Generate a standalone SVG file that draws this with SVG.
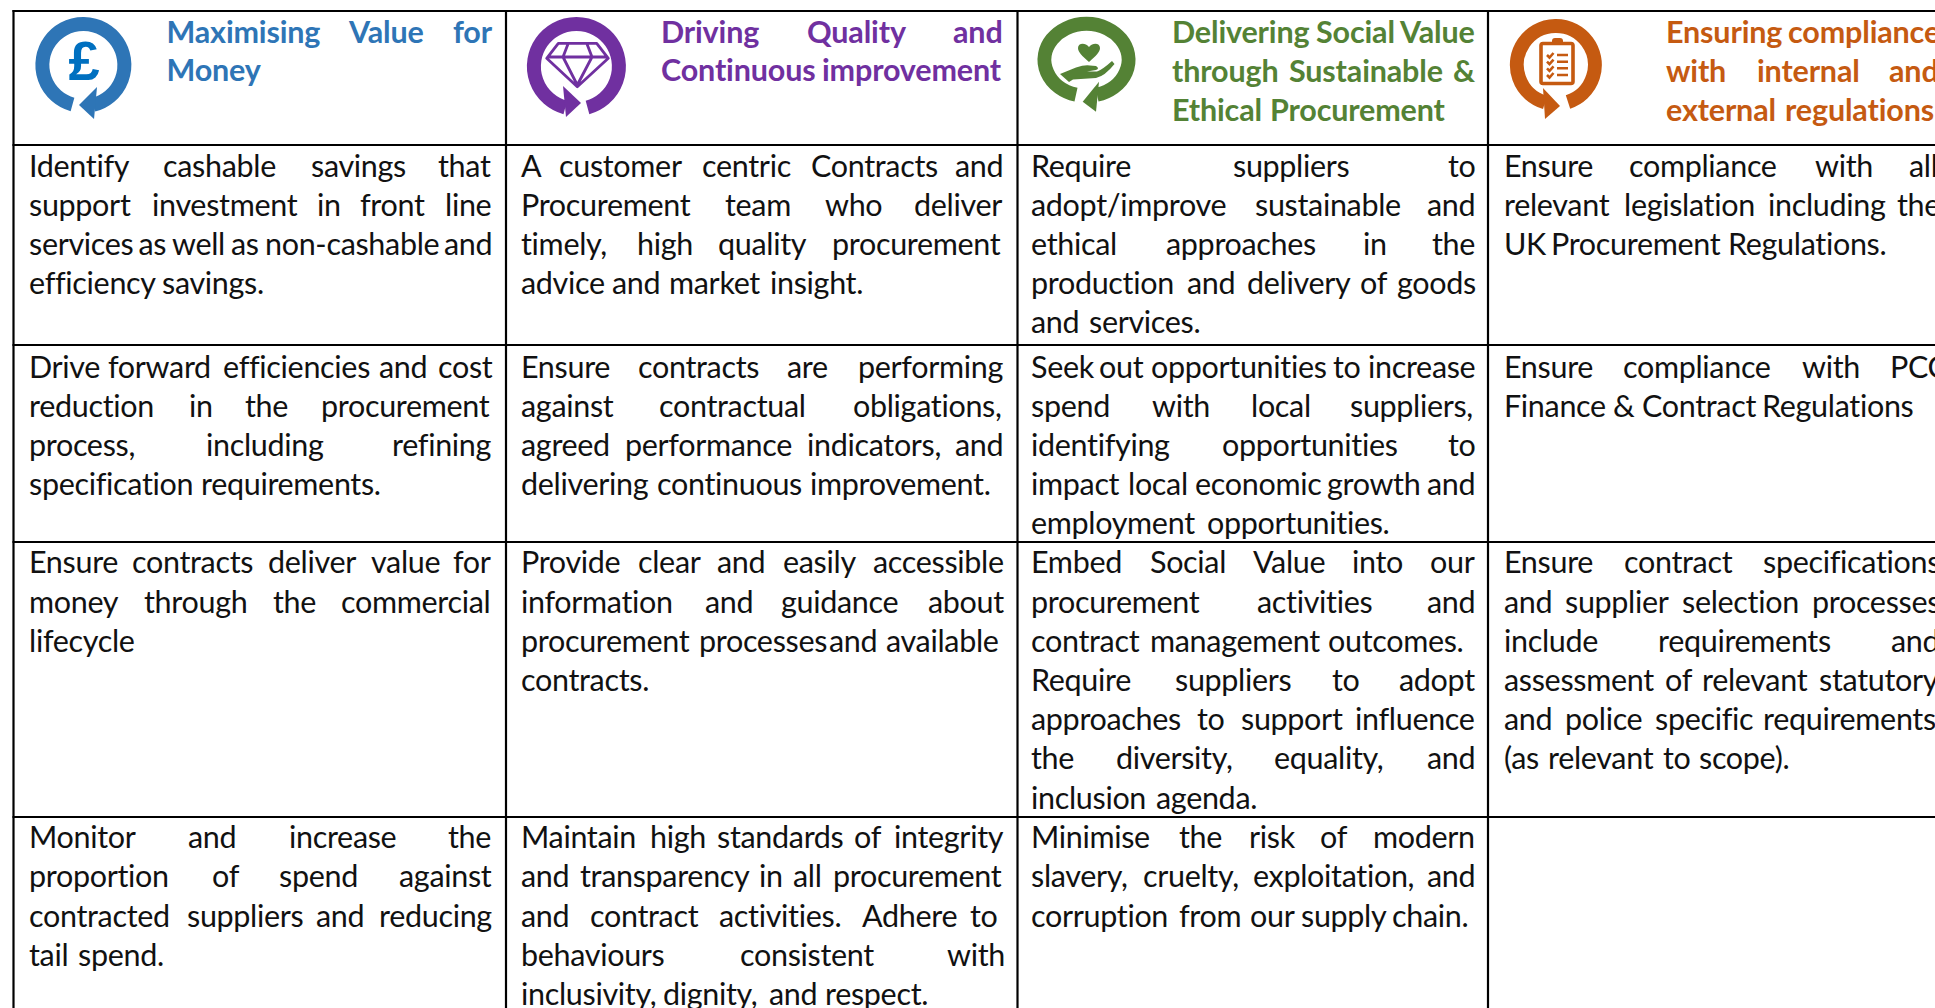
<svg xmlns="http://www.w3.org/2000/svg" width="1935" height="1008" viewBox="0 0 1935 1008">
<style>
text{font-family:"Lato","Open Sans","Liberation Sans",sans-serif}
.b{font-size:30.5px;letter-spacing:-.32px;fill:#111}
.h{font-size:30.5px;letter-spacing:-.15px;font-weight:700}
.bl{fill:#2e75b6}.pu{fill:#7030a0}.gr{fill:#548235}.or{fill:#c55a11}
.ring{fill:none;stroke-width:14}
.grid line{stroke:#000;stroke-width:2.2}
</style>
<rect width="1935" height="1008" fill="#fff"/>
<g id="connectors" class="grid">
<line x1="12.5" y1="11" x2="1935" y2="11"/>
<line x1="12.5" y1="145" x2="1935" y2="145"/>
<line x1="12.5" y1="345" x2="1935" y2="345"/>
<line x1="12.5" y1="542" x2="1935" y2="542"/>
<line x1="12.5" y1="817" x2="1935" y2="817"/>
<line x1="13.5" y1="10" x2="13.5" y2="1008"/>
<line x1="506" y1="10" x2="506" y2="1008"/>
<line x1="1017.5" y1="10" x2="1017.5" y2="1008"/>
<line x1="1488" y1="10" x2="1488" y2="1008"/>
</g>
<g id="head-value">
<path class="ring" stroke="#2e75b6" d="M72.5,104.5 A41,41 0 1 1 93.5,104.7"/>
<polygon class="bl" points="79,105 97,87 94,119"/>
<text x="84" y="80" text-anchor="middle" style="font-family:'Liberation Sans',sans-serif;font-size:56px;font-weight:700" fill="#0070c0">£</text>
<text class="h bl" y="43"><tspan x="166.5">Maximising</tspan> <tspan x="349">Value</tspan> <tspan x="453">for</tspan></text>
<text class="h bl" x="166.5" y="81">Money</text>
</g>
<g id="head-quality">
<path class="ring" stroke="#7030a0" d="M587.5,107.5 A42.5,42.5 0 1 0 565.3,107.5"/>
<polygon class="pu" points="581,103 563,86 566,117"/>
<path d="M558.3,43.3H596.7L608.3,58.3L577.3,86.7L546.7,58.3ZM547,57H608M568,44L563,57L577.3,85L592,57L587,44" fill="none" stroke="#7030a0" stroke-width="2.8" stroke-linejoin="round"/>
<text class="h pu" y="43"><tspan x="661">Driving</tspan> <tspan x="807">Quality</tspan> <tspan x="953">and</tspan></text>
<text class="h pu" y="81"><tspan x="661">Continuous</tspan> <tspan x="822">improvement</tspan></text>
</g>
<g id="head-social">
<path class="ring" stroke="#548235" d="M1076,94.7 A42,36 0 1 1 1097,94.7"/>
<polygon class="gr" points="1082.7,101.7 1099,81.7 1096,111.7"/>
<path class="gr" d="M1089,62C1082,56 1078,52 1078,48C1078,43 1085,42 1089,47C1093,42 1100,43 1100,48C1100,52 1096,56 1089,62Z"/>
<path class="gr" d="M1060,74L1076,67.5Q1085,64.5 1090,65.5L1096,66Q1100,68.5 1096,70L1087,71.5L1097,71.5Q1102,70 1112,61L1114.5,64Q1105,76 1096,78L1073,79.5L1069,82Z"/>
<text class="h gr" y="43"><tspan x="1172">Delivering</tspan> <tspan x="1316">Social</tspan> <tspan x="1400">Value</tspan></text>
<text class="h gr" y="82"><tspan x="1172">through</tspan> <tspan x="1289">Sustainable</tspan> <tspan x="1453">&amp;</tspan></text>
<text class="h gr" y="121"><tspan x="1172">Ethical</tspan> <tspan x="1270">Procurement</tspan></text>
</g>
<g id="head-compliance">
<path class="ring" stroke="#c55a11" d="M1568,102 A39,39 0 1 0 1545,102.4"/>
<polygon class="or" points="1560,106 1543,88 1545,119"/>
<rect x="1541" y="43.5" width="32" height="40" rx="2" fill="none" stroke="#c55a11" stroke-width="3.6"/>
<rect x="1552" y="38" width="11" height="7" rx="3" class="or"/>
<path d="M1547,55l2.5,2.5l4-4.5M1547,61.7l2.5,2.5l4-4.5M1547,68.3l2.5,2.5l4-4.5M1547,75l2.5,2.5l4-4.5M1557,55h11M1557,61.7h11M1557,68.3h11M1557,75h11" fill="none" stroke="#c55a11" stroke-width="2.6"/>
<text class="h or" y="43"><tspan x="1666">Ensuring</tspan> <tspan x="1788">compliance</tspan></text>
<text class="h or" y="82"><tspan x="1666">with</tspan> <tspan x="1757">internal</tspan> <tspan x="1889">and</tspan></text>
<text class="h or" y="121"><tspan x="1666">external</tspan> <tspan x="1785">regulations</tspan></text>
</g>
<g id="r1c1" class="b">
<text y="177"><tspan x="29">Identify</tspan> <tspan x="163">cashable</tspan> <tspan x="311">savings</tspan> <tspan x="438">that</tspan></text>
<text y="216"><tspan x="29">support</tspan> <tspan x="152">investment</tspan> <tspan x="317">in</tspan> <tspan x="360">front</tspan> <tspan x="445">line</tspan></text>
<text y="255"><tspan x="29">services</tspan> <tspan x="138.5">as</tspan> <tspan x="172">well</tspan> <tspan x="231">as</tspan> <tspan x="265">non-cashable</tspan> <tspan x="444">and</tspan></text>
<text y="294"><tspan x="29">efficiency</tspan> <tspan x="162">savings.</tspan></text>
</g>
<g id="r1c2" class="b">
<text y="177"><tspan x="521">A</tspan> <tspan x="559">customer</tspan> <tspan x="702">centric</tspan> <tspan x="811">Contracts</tspan> <tspan x="955">and</tspan></text>
<text y="216"><tspan x="521">Procurement</tspan> <tspan x="725">team</tspan> <tspan x="825">who</tspan> <tspan x="914">deliver</tspan></text>
<text y="255"><tspan x="521">timely,</tspan> <tspan x="637">high</tspan> <tspan x="718">quality</tspan> <tspan x="832">procurement</tspan></text>
<text y="294"><tspan x="521">advice</tspan> <tspan x="612">and</tspan> <tspan x="669">market</tspan> <tspan x="770">insight.</tspan></text>
</g>
<g id="r1c3" class="b">
<text y="177"><tspan x="1031">Require</tspan> <tspan x="1233">suppliers</tspan> <tspan x="1448">to</tspan></text>
<text y="216"><tspan x="1031">adopt/improve</tspan> <tspan x="1255">sustainable</tspan> <tspan x="1427">and</tspan></text>
<text y="255"><tspan x="1031">ethical</tspan> <tspan x="1166">approaches</tspan> <tspan x="1363">in</tspan> <tspan x="1432">the</tspan></text>
<text y="294"><tspan x="1031">production</tspan> <tspan x="1187">and</tspan> <tspan x="1247">delivery</tspan> <tspan x="1360">of</tspan> <tspan x="1397">goods</tspan></text>
<text y="333"><tspan x="1031">and</tspan> <tspan x="1089">services.</tspan></text>
</g>
<g id="r1c4" class="b">
<text y="177"><tspan x="1504">Ensure</tspan> <tspan x="1629">compliance</tspan> <tspan x="1815">with</tspan> <tspan x="1909">all</tspan></text>
<text y="216"><tspan x="1504">relevant</tspan> <tspan x="1624">legislation</tspan> <tspan x="1768">including</tspan> <tspan x="1897">the</tspan></text>
<text y="255"><tspan x="1504">UK</tspan> <tspan x="1551">Procurement</tspan> <tspan x="1728">Regulations.</tspan></text>
</g>
<g id="r2c1" class="b">
<text y="378"><tspan x="29">Drive</tspan> <tspan x="108">forward</tspan> <tspan x="223">efficiencies</tspan> <tspan x="379">and</tspan> <tspan x="438">cost</tspan></text>
<text y="417"><tspan x="29">reduction</tspan> <tspan x="189">in</tspan> <tspan x="245">the</tspan> <tspan x="321">procurement</tspan></text>
<text y="456"><tspan x="29">process,</tspan> <tspan x="206">including</tspan> <tspan x="392">refining</tspan></text>
<text y="495"><tspan x="29">specification</tspan> <tspan x="201">requirements.</tspan></text>
</g>
<g id="r2c2" class="b">
<text y="378"><tspan x="521">Ensure</tspan> <tspan x="638">contracts</tspan> <tspan x="787">are</tspan> <tspan x="858">performing</tspan></text>
<text y="417"><tspan x="521">against</tspan> <tspan x="659">contractual</tspan> <tspan x="853">obligations,</tspan></text>
<text y="456"><tspan x="521">agreed</tspan> <tspan x="625">performance</tspan> <tspan x="807">indicators,</tspan> <tspan x="955">and</tspan></text>
<text y="495"><tspan x="521">delivering</tspan> <tspan x="657">continuous</tspan> <tspan x="810">improvement.</tspan></text>
</g>
<g id="r2c3" class="b">
<text y="378"><tspan x="1031">Seek</tspan> <tspan x="1099">out</tspan> <tspan x="1151">opportunities</tspan> <tspan x="1333">to</tspan> <tspan x="1368">increase</tspan></text>
<text y="417"><tspan x="1031">spend</tspan> <tspan x="1152">with</tspan> <tspan x="1251">local</tspan> <tspan x="1350">suppliers,</tspan></text>
<text y="456"><tspan x="1031">identifying</tspan> <tspan x="1222">opportunities</tspan> <tspan x="1448">to</tspan></text>
<text y="495"><tspan x="1031">impact</tspan> <tspan x="1128">local</tspan> <tspan x="1195">economic</tspan> <tspan x="1327">growth</tspan> <tspan x="1427">and</tspan></text>
<text y="534"><tspan x="1031">employment</tspan> <tspan x="1207">opportunities.</tspan></text>
</g>
<g id="r2c4" class="b">
<text y="378"><tspan x="1504">Ensure</tspan> <tspan x="1623">compliance</tspan> <tspan x="1802">with</tspan> <tspan x="1890">PCC</tspan></text>
<text y="417"><tspan x="1504">Finance</tspan> <tspan x="1613">&amp;</tspan> <tspan x="1642">Contract</tspan> <tspan x="1762">Regulations</tspan></text>
</g>
<g id="r3c1" class="b">
<text y="573"><tspan x="29">Ensure</tspan> <tspan x="132">contracts</tspan> <tspan x="268">deliver</tspan> <tspan x="371">value</tspan> <tspan x="453">for</tspan></text>
<text y="613"><tspan x="29">money</tspan> <tspan x="144">through</tspan> <tspan x="273">the</tspan> <tspan x="341">commercial</tspan></text>
<text y="652" x="29">lifecycle</text>
</g>
<g id="r3c2" class="b">
<text y="573"><tspan x="521">Provide</tspan> <tspan x="638">clear</tspan> <tspan x="717">and</tspan> <tspan x="783">easily</tspan> <tspan x="873">accessible</tspan></text>
<text y="613"><tspan x="521">information</tspan> <tspan x="705">and</tspan> <tspan x="781">guidance</tspan> <tspan x="928">about</tspan></text>
<text y="652"><tspan x="521">procurement</tspan> <tspan x="699">processes</tspan> <tspan x="829">and</tspan> <tspan x="886">available</tspan></text>
<text y="691" x="521">contracts.</text>
</g>
<g id="r3c3" class="b">
<text y="573"><tspan x="1031">Embed</tspan> <tspan x="1150">Social</tspan> <tspan x="1253">Value</tspan> <tspan x="1352">into</tspan> <tspan x="1430">our</tspan></text>
<text y="613"><tspan x="1031">procurement</tspan> <tspan x="1257">activities</tspan> <tspan x="1427">and</tspan></text>
<text y="652"><tspan x="1031">contract</tspan> <tspan x="1150">management</tspan> <tspan x="1328">outcomes.</tspan></text>
<text y="691"><tspan x="1031">Require</tspan> <tspan x="1175">suppliers</tspan> <tspan x="1332">to</tspan> <tspan x="1399">adopt</tspan></text>
<text y="730"><tspan x="1031">approaches</tspan> <tspan x="1197">to</tspan> <tspan x="1241">support</tspan> <tspan x="1355">influence</tspan></text>
<text y="769"><tspan x="1031">the</tspan> <tspan x="1116">diversity,</tspan> <tspan x="1274">equality,</tspan> <tspan x="1427">and</tspan></text>
<text y="809"><tspan x="1031">inclusion</tspan> <tspan x="1156">agenda.</tspan></text>
</g>
<g id="r3c4" class="b">
<text y="573"><tspan x="1504">Ensure</tspan> <tspan x="1624">contract</tspan> <tspan x="1763">specifications</tspan></text>
<text y="613"><tspan x="1504">and</tspan> <tspan x="1565">supplier</tspan> <tspan x="1682">selection</tspan> <tspan x="1812">processes</tspan></text>
<text y="652"><tspan x="1504">include</tspan> <tspan x="1658">requirements</tspan> <tspan x="1891">and</tspan></text>
<text y="691"><tspan x="1504">assessment</tspan> <tspan x="1665">of</tspan> <tspan x="1702">relevant</tspan> <tspan x="1819">statutory</tspan></text>
<text y="730"><tspan x="1504">and</tspan> <tspan x="1565">police</tspan> <tspan x="1655">specific</tspan> <tspan x="1763">requirements</tspan></text>
<text y="769"><tspan x="1504">(as</tspan> <tspan x="1548">relevant</tspan> <tspan x="1663">to</tspan> <tspan x="1699">scope).</tspan></text>
</g>
<g id="r4c1" class="b">
<text y="848"><tspan x="29">Monitor</tspan> <tspan x="188">and</tspan> <tspan x="289">increase</tspan> <tspan x="448">the</tspan></text>
<text y="887"><tspan x="29">proportion</tspan> <tspan x="212">of</tspan> <tspan x="279">spend</tspan> <tspan x="399">against</tspan></text>
<text y="927"><tspan x="29">contracted</tspan> <tspan x="187">suppliers</tspan> <tspan x="316">and</tspan> <tspan x="379">reducing</tspan></text>
<text y="966"><tspan x="29">tail</tspan> <tspan x="78">spend.</tspan></text>
</g>
<g id="r4c2" class="b">
<text y="848"><tspan x="521">Maintain</tspan> <tspan x="650">high</tspan> <tspan x="717">standards</tspan> <tspan x="854">of</tspan> <tspan x="894">integrity</tspan></text>
<text y="887"><tspan x="521">and</tspan> <tspan x="580">transparency</tspan> <tspan x="759">in</tspan> <tspan x="793">all</tspan> <tspan x="833">procurement</tspan></text>
<text y="927"><tspan x="521">and</tspan> <tspan x="590">contract</tspan> <tspan x="719">activities.</tspan> <tspan x="862">Adhere</tspan> <tspan x="970">to</tspan></text>
<text y="966"><tspan x="521">behaviours</tspan> <tspan x="740">consistent</tspan> <tspan x="947">with</tspan></text>
<text y="1005"><tspan x="521">inclusivity,</tspan> <tspan x="663">dignity,</tspan> <tspan x="769">and</tspan> <tspan x="825">respect.</tspan></text>
</g>
<g id="r4c3" class="b">
<text y="848"><tspan x="1031">Minimise</tspan> <tspan x="1179">the</tspan> <tspan x="1249">risk</tspan> <tspan x="1320">of</tspan> <tspan x="1373">modern</tspan></text>
<text y="887"><tspan x="1031">slavery,</tspan> <tspan x="1143">cruelty,</tspan> <tspan x="1253">exploitation,</tspan> <tspan x="1427">and</tspan></text>
<text y="927"><tspan x="1031">corruption</tspan> <tspan x="1179">from</tspan> <tspan x="1250">our</tspan> <tspan x="1301">supply</tspan> <tspan x="1392">chain.</tspan></text>
</g>
</svg>
